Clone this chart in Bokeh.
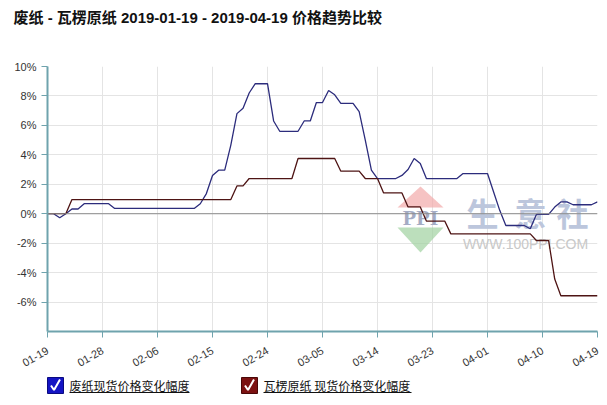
import math
from bokeh.plotting import figure
from bokeh.models import Range1d, FixedTicker, Span
from bokeh.core.properties import value
from bokeh.embed import file_html
from bokeh.resources import INLINE

title_text = "废纸 - 瓦楞原纸 2019-01-19 - 2019-04-19 价格趋势比较"
series_names = ["废纸现货价格变化幅度", "瓦楞原纸 现货价格变化幅度"]
tick_days = [0, 9, 18, 27, 36, 45, 54, 63, 72, 81, 90]
tick_labels = ["01-19", "01-28", "02-06", "02-15", "02-24", "03-05",
               "03-14", "03-23", "04-01", "04-10", "04-19"]
y_ticks = [-6, -4, -2, 0, 2, 4, 6, 8, 10]

days = list(range(91))  # 2019-01-19 .. 2019-04-19, one point per day

waste_paper = [
    0, 0, -0.27, 0, 0.32, 0.32, 0.68, 0.68, 0.68, 0.68,
    0.68, 0.36, 0.36, 0.36, 0.36, 0.36, 0.36, 0.36, 0.36, 0.36,
    0.36, 0.36, 0.36, 0.36, 0.36, 0.68, 1.37, 2.6, 2.96, 2.96,
    4.66, 6.8, 7.17, 8.2, 8.83, 8.83, 8.83, 6.3, 5.6, 5.6,
    5.6, 5.6, 6.3, 6.3, 7.55, 7.55, 8.37, 8.08, 7.5, 7.5,
    7.5, 6.94, 5.0, 2.96, 2.39, 2.39, 2.39, 2.39, 2.6, 3.0,
    3.75, 3.41, 2.39, 2.39, 2.39, 2.39, 2.39, 2.39, 2.73, 2.73,
    2.73, 2.73, 2.73, 1.48, 0.23, -0.8, -0.8, -0.8, -0.8, -1.02,
    -0.05, -0.05, -0.05, 0.45, 0.8, 0.8, 0.61, 0.61, 0.61, 0.61,
    0.8,
]

corrugated = [
    0, 0, 0, 0, 0.96, 0.96, 0.96, 0.96, 0.96, 0.96,
    0.96, 0.96, 0.96, 0.96, 0.96, 0.96, 0.96, 0.96, 0.96, 0.96,
    0.96, 0.96, 0.96, 0.96, 0.96, 0.96, 0.96, 0.96, 0.96, 0.96,
    0.96, 1.89, 1.89, 2.39, 2.39, 2.39, 2.39, 2.39, 2.39, 2.39,
    2.39, 3.75, 3.75, 3.75, 3.75, 3.75, 3.75, 3.75, 2.89, 2.89,
    2.89, 2.89, 2.39, 2.39, 2.39, 1.41, 1.41, 1.41, 1.41, 0.46,
    0.46, 0.46, -0.5, -0.5, -0.5, -0.5, -1.37, -1.37, -1.37, -1.37,
    -1.37, -1.37, -1.37, -1.37, -1.37, -1.37, -1.37, -1.37, -1.37, -1.37,
    -1.82, -1.82, -1.82, -4.44, -5.57, -5.57, -5.57, -5.57, -5.57, -5.57,
    -5.57,
]

BLUE = "#2c2c7c"
RED = "#4e1414"
AXIS = "#6fa3ad"
GRID = "#e4e4e4"
CJK = "Noto Sans CJK SC"
SANS = "Liberation Sans"

# frame geometry (pixels inside the figure)
FL, FR, FT, FB = 47, 597, 66, 331
W, H = 603, 400

p = figure(width=W, height=H, output_backend="svg", toolbar_location=None,
           x_range=Range1d(0, 90), y_range=Range1d(-8, 10),
           min_border_left=FL, min_border_right=W - FR, min_border_top=FT,
           min_border_bottom=H - FB)
p.outline_line_color = None
# pixel-space ranges for decorations (title, legend, watermark)
p.extra_x_ranges = {"px": Range1d(FL, FR)}
p.extra_y_ranges = {"py": Range1d(FB, FT)}
PX = dict(x_range_name="px", y_range_name="py")

# watermark
p.patch([397, 420, 443], [207, 186, 207], fill_color="#f2a9a9",
        line_color=None, fill_alpha=0.7, **PX)
p.patch([397, 443, 420], [227, 227, 252], fill_color="#9fd29f",
        line_color=None, fill_alpha=0.7, **PX)
p.text(x=[420], y=[217], text=["PPI"], text_font=value("Liberation Serif"),
       text_font_size="22px", text_font_style="bold", text_color="#a4acc4",
       text_align="center", text_baseline="middle", **PX)
p.text(x=[482, 530, 572], y=[211, 211, 211], text=["生", "意", "社"],
       text_font=value(CJK), text_font_size="32px", text_font_style="bold",
       text_color="#bcc6dc", text_align="center", text_baseline="middle", **PX)
p.text(x=[525], y=[243], text=["WWW.100PPI.COM"], text_font=value(SANS),
       text_font_size="14px", text_color="#c8c8c8", text_align="center",
       text_baseline="middle", **PX)

p.add_layout(Span(location=0, dimension="width", line_color="#8c8c8c",
                  line_width=1))

p.line(days, waste_paper, line_color=BLUE, line_width=1.3)
p.line(days, corrugated, line_color=RED, line_width=1.3)

p.xaxis.ticker = FixedTicker(ticks=tick_days)
p.xaxis.major_label_overrides = {d: l for d, l in zip(tick_days, tick_labels)}
p.xaxis.major_label_orientation = math.pi / 6
p.yaxis.ticker = FixedTicker(ticks=y_ticks)
p.yaxis.major_label_overrides = {v: f"{v}%" for v in y_ticks}

for ax in (p.xaxis[0], p.yaxis[0]):
    ax.axis_line_color = AXIS
    ax.axis_line_width = 2
    ax.major_tick_line_color = AXIS
    ax.major_tick_in = 0
    ax.major_tick_out = 6
    ax.minor_tick_line_color = None
    ax.major_label_text_font = SANS
    ax.major_label_text_font_size = "11px"
    ax.major_label_text_color = "#333333"
p.yaxis.major_label_standoff = 5
p.xaxis.major_label_standoff = 12

p.xgrid.grid_line_color = GRID
p.ygrid.grid_line_color = GRID

# title (drawn outside the frame, so not clipped)
t = p.text(x=[13], y=[17], text=[title_text],
           text_font=value("Liberation Sans, Noto Sans CJK SC"),
           text_font_size="15px", text_font_style="bold", text_color="#111111",
           text_baseline="middle", text_align="left", **PX)
t.level = "overlay"

# legend row
box_x = [47, 241]
box_colors = ["#1414c4", "#7c1212"]
text_x = [69, 263]
r = p.rect(x=[bx + 8 for bx in box_x], y=[385, 385], width=16, height=16,
           fill_color=box_colors, line_color=["#0a0a80", "#4a0808"], **PX)
r.level = "overlay"
for bx in box_x:
    c = p.line([bx + 3.5, bx + 6.5, bx + 12.5], [385, 389.5, 379],
               line_color="white", line_width=2, **PX)
    c.level = "overlay"
lt = p.text(x=text_x, y=[385, 385], text=series_names, text_font=value(CJK),
            text_font_size="12px", text_color="#111111", text_baseline="middle",
            text_align="left", **PX)
lt.level = "overlay"
for tx, name in zip(text_x, series_names):
    n_cjk = sum(1 for ch in name if ch != " ")
    w = n_cjk * 12 + (4 if " " in name else 0)
    u = p.line([tx, tx + w], [392, 392], line_color="#111111", line_width=1, **PX)
    u.level = "overlay"

open("out.html", "w").write(file_html(p, INLINE))
